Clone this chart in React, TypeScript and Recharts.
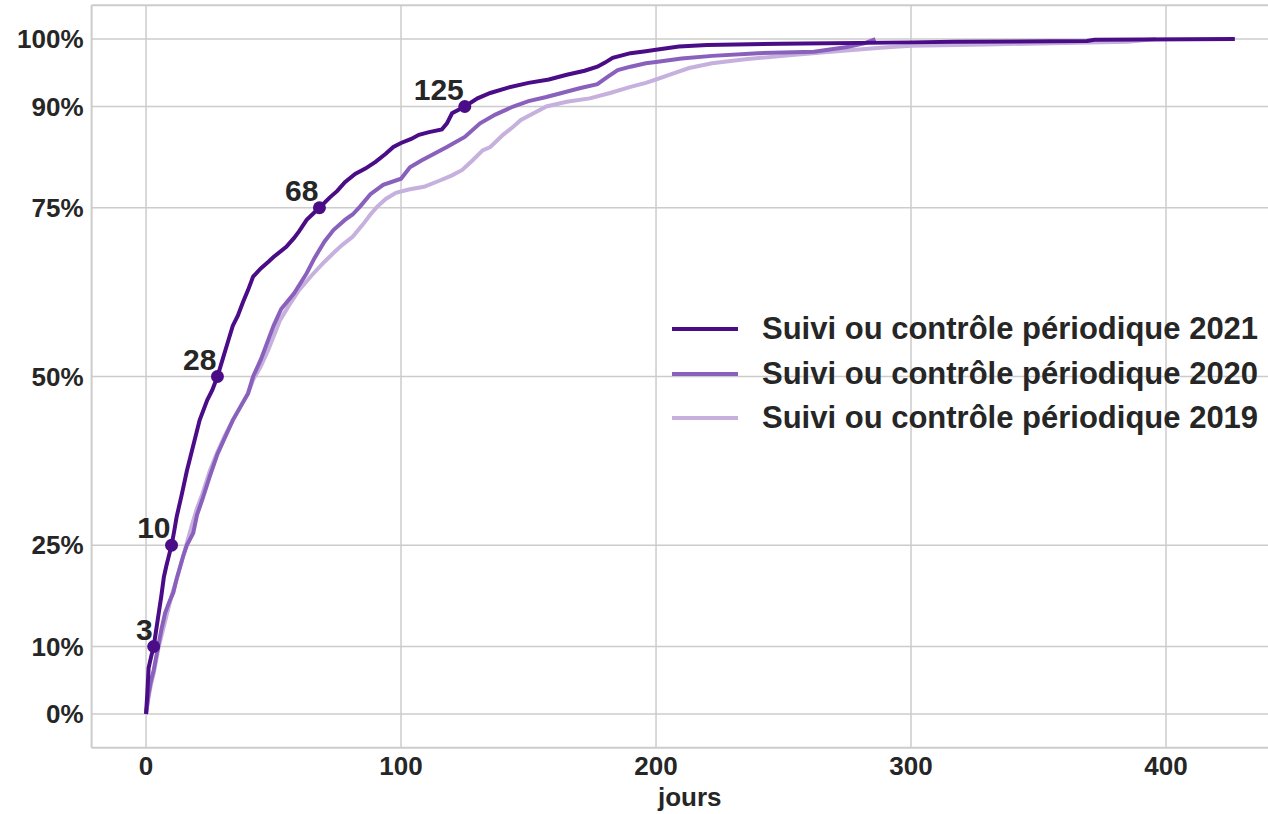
import React from 'react';
import {
  ComposedChart,
  Line,
  Scatter,
  XAxis,
  YAxis,
  CartesianGrid,
  ReferenceLine,
} from 'recharts';

// ---- data ----
const days2021 = [0, 0.5, 1, 2, 3, 4, 5, 6, 7, 8, 9, 10, 11, 12, 14, 16, 18, 21, 24, 26, 28, 30, 32, 34, 36, 38, 40, 42, 45, 48, 50, 55, 58, 60, 63, 66, 68, 72, 75, 78, 82, 86, 90, 94, 97, 100, 104, 107, 111, 116, 118, 120, 125, 130, 135, 142, 150, 158, 165, 172, 177, 180, 183, 190, 196, 200, 209, 220, 249, 300, 317, 369, 372, 427];
const pct2021 = [0, 3, 6.8, 8.5, 10, 12.5, 15, 17.5, 20.3, 22, 23.5, 25, 27, 29.2, 32.5, 36, 39, 43.5, 46.5, 48, 50, 52.5, 55, 57.5, 59, 61, 62.8, 64.8, 66, 67, 67.7, 69.2, 70.5, 71.5, 73.2, 74.3, 75, 76.5, 77.5, 78.8, 80, 80.8, 81.8, 83, 84, 84.6, 85.2, 85.8, 86.2, 86.6, 87.5, 89, 90, 91.2, 92, 92.8, 93.5, 94, 94.7, 95.3, 95.9, 96.5, 97.2, 97.9, 98.2, 98.4, 98.9, 99.1, 99.3, 99.5, 99.6, 99.7, 99.9, 100];

const days2020 = [0, 1, 2, 3, 4, 5, 6, 7.5, 9, 10.7, 12, 14.5, 16, 18.5, 20, 22, 25, 28, 31, 34, 37, 40, 42, 45, 48, 50, 53, 58, 63, 66, 70, 73.5, 78, 81, 84, 88, 93, 100, 103.5, 108, 113, 118, 125, 131, 137, 144, 150, 157, 163, 170, 177, 181, 185, 190, 196, 200, 210, 222, 240, 262, 275, 282, 286];
const pct2020 = [0, 3, 5, 6.5, 8.5, 10.5, 12.5, 15, 16.5, 18, 20, 23.3, 25, 26.8, 29.5, 31.7, 35.2, 38.5, 41, 43.5, 45.5, 47.5, 50, 52.5, 55.5, 57.5, 60, 62.3, 65.3, 67.5, 70, 71.7, 73.2, 74, 75.2, 77, 78.4, 79.3, 81, 82, 83, 84, 85.5, 87.5, 88.8, 90, 90.8, 91.4, 92, 92.7, 93.3, 94.4, 95.4, 95.9, 96.4, 96.6, 97.1, 97.5, 97.9, 98.1, 98.8, 99.4, 100];

const days2019 = [0, 1, 2, 3, 4, 5, 6, 8, 10, 12, 15, 18, 20, 22, 25, 28, 31, 34, 37, 40, 42, 45, 48, 52.5, 56, 60, 65, 70, 73.5, 77, 81, 85, 88, 90.5, 94, 98, 103, 109, 115, 120, 124, 128, 132, 135, 140, 144, 147, 152, 157, 165, 174, 182, 190, 196, 200, 206, 213, 222, 235, 250, 265, 288, 300, 330, 360, 385, 396];
const pct2019 = [0, 2.5, 4.5, 6, 8, 10, 11.5, 14.5, 17.5, 20, 24, 28, 30.5, 32.5, 36, 38.8, 41.3, 43.5, 45.5, 47.5, 49.5, 51.5, 54, 58.3, 60.5, 62.8, 65, 67, 68.3, 69.5, 70.7, 72.5, 74, 75.1, 76.3, 77.2, 77.7, 78.1, 79, 79.8, 80.6, 82, 83.5, 84, 85.8, 87, 88, 89, 90, 90.7, 91.2, 92, 92.9, 93.5, 94, 94.8, 95.7, 96.4, 97, 97.5, 98, 98.7, 99, 99.2, 99.4, 99.6, 100];

const markDays = [3, 10, 28, 68, 125];
const markPct = [10, 25, 50, 75, 90];

const xTicks = [0, 100, 200, 300, 400];
const yTicks = [0, 10, 25, 50, 75, 90, 100];

const seriesNames = [
  'Suivi ou contrôle périodique 2021',
  'Suivi ou contrôle périodique 2020',
  'Suivi ou contrôle périodique 2019',
];
const colors = ['#4b0c87', '#8a60bd', '#c6b0de'];

const zip = (xs: number[], ys: number[]) => xs.map((x, i) => ({ x, y: ys[i] }));
const data2021 = zip(days2021, pct2021);
const data2020 = zip(days2020, pct2020);
const data2019 = zip(days2019, pct2019);
const marks = markDays.map((x, i) => ({ x, y: markPct[i], label: String(x) }));

const FONT = '"Liberation Sans", Arial, sans-serif';
const TXT = '#262626';
const GRID = '#cccccc';
const XMIN = -21.35;
const XMAX = 440;
const YMIN = -5;
const YMAX = 105;

const MarkShape = (p: any) => {
  const { cx, cy, payload } = p;
  return (
    <g>
      <circle cx={cx} cy={cy} r={6.5} fill={colors[0]} />
      <text
        x={cx - 1}
        y={cy - 7}
        textAnchor="end"
        fontFamily={FONT}
        fontWeight="bold"
        fontSize={30}
        fill={TXT}
      >
        {payload.label}
      </text>
    </g>
  );
};

export default function App() {
  return (
    <div style={{ position: 'absolute', left: 0, top: 0, width: 1268, height: 814, background: '#fff', overflow: 'hidden' }}>
      <ComposedChart
        width={1268}
        height={814}
        margin={{ top: 5.25, right: 0, left: 0, bottom: 36.25 }}
      >
        <CartesianGrid stroke={GRID} strokeWidth={1.5} horizontalValues={yTicks} verticalValues={xTicks} />
        <XAxis
          type="number"
          dataKey="x"
          domain={[XMIN, XMAX]}
          ticks={xTicks}
          allowDataOverflow
          axisLine={false}
          tickLine={false}
          tickSize={0}
          tickMargin={9}
          height={30}
          tick={{ fontFamily: FONT, fontWeight: 'bold', fontSize: 26, fill: TXT }}
          label={{
            value: 'jours',
            position: 'bottom',
            offset: 10,
            dx: 10,
            style: { fontFamily: FONT, fontWeight: 'bold', fontSize: 26, fill: TXT },
          }}
        />
        <YAxis
          type="number"
          domain={[YMIN, YMAX]}
          ticks={yTicks}
          allowDataOverflow
          width={91.6}
          axisLine={false}
          tickLine={false}
          tickSize={0}
          tickMargin={8}
          tickFormatter={(v: number) => `${v}%`}
          tick={{ fontFamily: FONT, fontWeight: 'bold', fontSize: 26, fill: TXT }}
        />
        <ReferenceLine x={XMIN} stroke={GRID} strokeWidth={2} ifOverflow="visible" />
        <ReferenceLine y={YMAX} stroke={GRID} strokeWidth={2} ifOverflow="visible" />
        <ReferenceLine y={YMIN} stroke={GRID} strokeWidth={2} ifOverflow="visible" />
        <Line data={data2019} dataKey="y" type="linear" stroke={colors[2]} strokeWidth={4} dot={false} isAnimationActive={false} />
        <Line data={data2020} dataKey="y" type="linear" stroke={colors[1]} strokeWidth={4} dot={false} isAnimationActive={false} />
        <Line data={data2021} dataKey="y" type="linear" stroke={colors[0]} strokeWidth={4} dot={false} isAnimationActive={false} />
        <Scatter data={marks} dataKey="y" shape={MarkShape} isAnimationActive={false} />
      </ComposedChart>
      <div style={{ position: 'absolute', left: 672, top: 307, fontFamily: FONT, fontWeight: 'bold', fontSize: 31, color: TXT }}>
        {seriesNames.map((n, i) => (
          <div key={n} style={{ display: 'flex', alignItems: 'center', height: 44.5 }}>
            <div style={{ width: 66, height: 4, background: colors[i], marginRight: 24 }} />
            <span style={{ whiteSpace: 'nowrap', lineHeight: '44.5px' }}>{n}</span>
          </div>
        ))}
      </div>
    </div>
  );
}
